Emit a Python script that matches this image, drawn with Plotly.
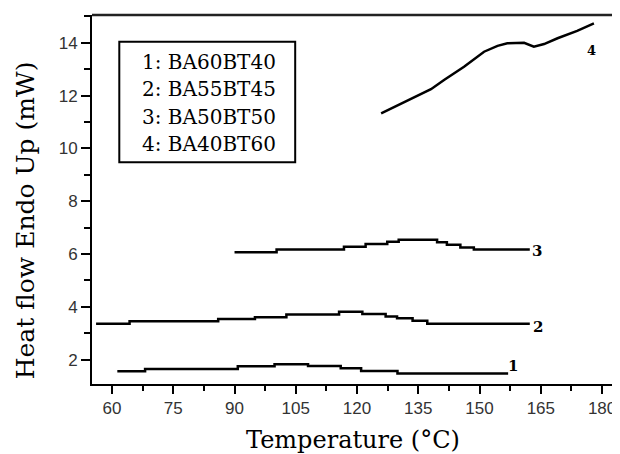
import plotly.graph_objects as go

# ---- data ----
c1_x = [61.3, 68.1, 90.8, 99.8, 108.0, 116.0, 121.0, 129.9, 157.0]
c1_y = [1.56, 1.65, 1.75, 1.83, 1.76, 1.68, 1.57, 1.48, 1.48]

c2_x = [56.1, 64.3, 86.0, 95.0, 102.7, 115.6, 121.3, 127.0, 129.8, 133.6, 137.2, 162.3]
c2_y = [3.36, 3.46, 3.54, 3.61, 3.71, 3.82, 3.73, 3.64, 3.57, 3.47, 3.36, 3.36]

c3_x = [90.0, 100.3, 116.8, 122.1, 127.4, 130.2, 139.6, 142.0, 145.3, 148.6, 162.3]
c3_y = [6.07, 6.17, 6.28, 6.38, 6.47, 6.54, 6.45, 6.35, 6.25, 6.17, 6.17]

c4_x = [125.9, 131.6, 138.1, 141.3, 146.2, 151.1, 154.4, 156.8, 160.9, 163.3, 165.8, 169.1, 173.9, 178.0]
c4_y = [11.33, 11.77, 12.24, 12.59, 13.09, 13.66, 13.88, 13.98, 14.0, 13.85, 13.95, 14.17, 14.45, 14.73]

curve_tags = ["1", "2", "3", "4"]
tag_x = [158.2, 164.3, 164.0, 177.4]
tag_y = [1.75, 3.23, 6.13, 13.7]

legend_labels = ["1: BA60BT40", "2: BA55BT45", "3: BA50BT50", "4: BA40BT60"]

x_ticks = [60, 75, 90, 105, 120, 135, 150, 165, 180]
y_ticks = [2, 4, 6, 8, 10, 12, 14]

x_title = "Temperature (°C)"
y_title = "Heat flow Endo Up (mW)"

# ---- figure ----
fig = go.Figure()
line_style = dict(color="black", width=2.5)
for xs, ys, shape in [(c1_x, c1_y, "hv"), (c2_x, c2_y, "hv"), (c3_x, c3_y, "hv"), (c4_x, c4_y, "linear")]:
    fig.add_trace(go.Scatter(x=xs, y=ys, mode="lines", line=dict(shape=shape, **line_style),
                             showlegend=False, hoverinfo="skip"))

serif = "DejaVu Serif"
ann = []
for t, x, y in zip(curve_tags, tag_x, tag_y):
    ann.append(dict(x=x, y=y, xref="x", yref="y", text=t, showarrow=False,
                    font=dict(family=serif, size=15 if t != "4" else 13, color="black",
                              weight="bold")))

leg_y = [0.8734, 0.7986, 0.7244, 0.6504]
for lab, yy in zip(legend_labels, leg_y):
    ann.append(dict(x=0.2225, y=yy, xref="paper", yref="paper", text=lab, showarrow=False,
                    xanchor="center", yanchor="middle",
                    font=dict(family=serif, size=20, color="black")))

ann.append(dict(x=0.4965, y=-0.1518, xref="paper", yref="paper", text=x_title, showarrow=False,
                xanchor="center", yanchor="middle", font=dict(family=serif, size=24, color="black")))
ann.append(dict(x=-0.1267, y=0.4444, xref="paper", yref="paper", text=y_title, showarrow=False,
                textangle=-90, xanchor="center", yanchor="middle",
                font=dict(family=serif, size=25, color="black")))

shapes = [
    dict(type="rect", xref="paper", yref="paper", x0=0.0519, x1=0.3863, y0=0.6008, y1=0.9276,
         line=dict(color="black", width=2), fillcolor="rgba(0,0,0,0)"),
    dict(type="line", xref="paper", yref="paper", x0=0, x1=1, y0=1, y1=1,
         line=dict(color="#222", width=2.5)),
    dict(type="line", xref="paper", yref="paper", x0=1, x1=1, y0=0, y1=1,
         line=dict(color="#888", width=1)),
]

tick_font = dict(family="Liberation Sans", size=17, color="#333")
fig.update_layout(
    width=612, height=446,
    margin=dict(l=84, r=2, t=7, b=70),
    paper_bgcolor="white", plot_bgcolor="white",
    annotations=ann, shapes=shapes,
    xaxis=dict(range=[55.1, 183.9], tickmode="array", tickvals=x_ticks,
               ticktext=[str(v) for v in x_ticks],
               showgrid=False, zeroline=False, showline=True, linecolor="black", linewidth=2,
               ticks="outside", ticklen=8, tickwidth=2, tickcolor="black", tickfont=tick_font,
               minor=dict(tick0=52.5, dtick=7.5, ticks="outside", ticklen=5, tickwidth=2,
                          tickcolor="black", showgrid=False)),
    yaxis=dict(range=[1.08, 15.05], tickmode="array", tickvals=y_ticks,
               ticktext=[str(v) for v in y_ticks],
               showgrid=False, zeroline=False, showline=True, linecolor="black", linewidth=2,
               ticks="outside", ticklen=9, tickwidth=2, tickcolor="black", tickfont=tick_font,
               minor=dict(tick0=1, dtick=1, ticks="outside", ticklen=6, tickwidth=2,
                          tickcolor="black", showgrid=False)),
)

fig.write_html("out.html")
